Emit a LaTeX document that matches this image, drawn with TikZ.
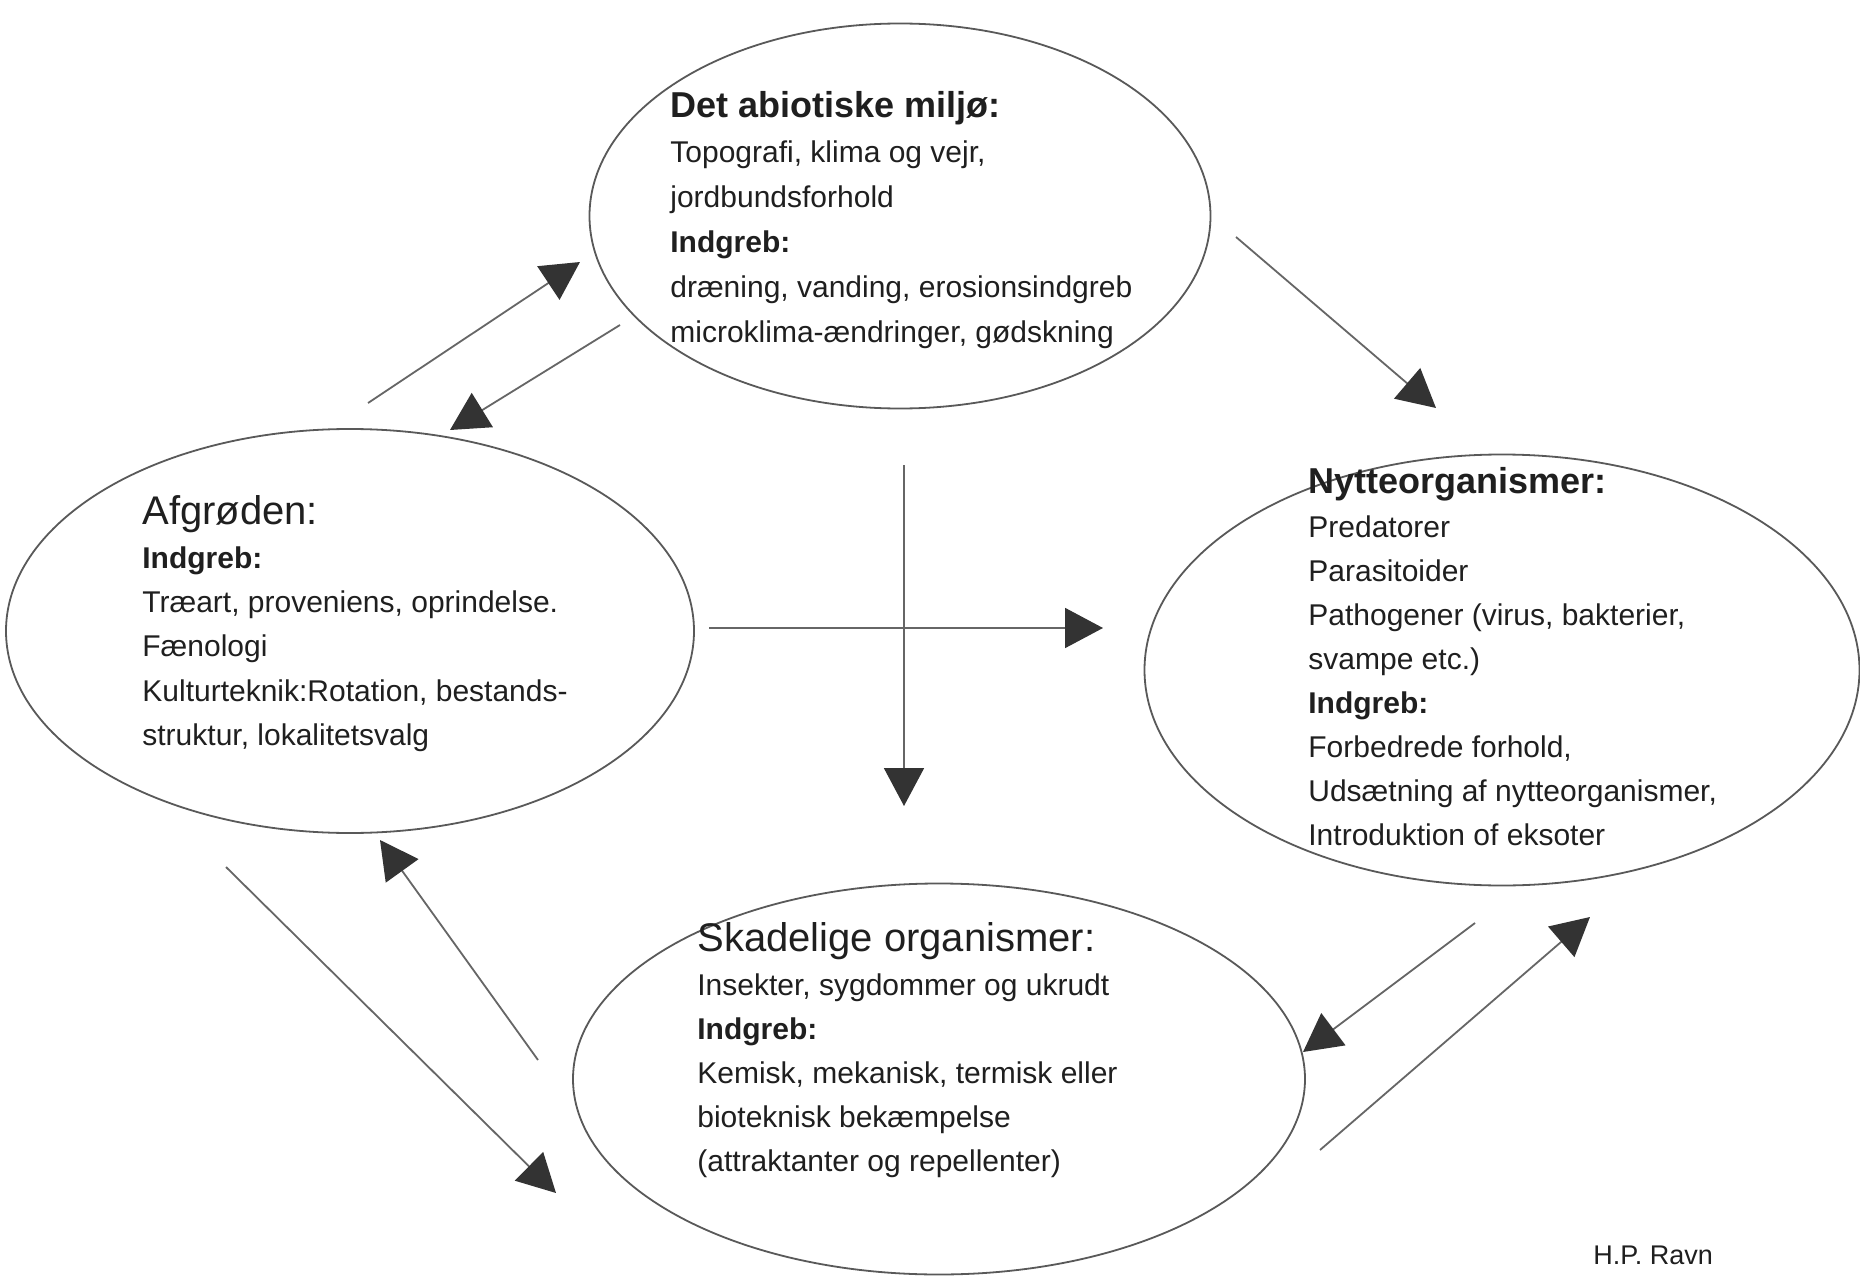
\documentclass[tikz,border=0pt]{standalone}
\usepackage{fontspec}
\setmainfont{Liberation Sans}
\usetikzlibrary{shapes.geometric,arrows.meta}

\tikzset{
  kreds/.style={ellipse, draw=black!65, line width=0.9pt, inner sep=0pt},
  tekst/.style={anchor=north west, inner sep=0pt, align=left, text=black!88, font=\fontsize{15}{22.5}\selectfont},
  pil/.style={draw=black!60, line width=0.9pt, -{Triangle[length=19pt,width=20pt,color=black!80]}},
}
\newcommand{\overskrift}[1]{{\fontsize{18}{22.5}\selectfont\bfseries #1}}
\newcommand{\overskriftalm}[1]{{\fontsize{20}{22.5}\selectfont #1}}

\begin{document}
\begin{tikzpicture}[x=0.5pt,y=-0.5pt]
  \useasboundingbox[fill=white] (0,0) rectangle (1860,1279);

  \node[kreds, minimum width=310.5pt, minimum height=192.5pt] (abiotisk) at (900,216) {};
  \node[kreds, minimum width=344pt, minimum height=202pt] (afgrode) at (350,631) {};
  \node[kreds, minimum width=357.5pt, minimum height=215.5pt] (nytte) at (1502,670) {};
  \node[kreds, minimum width=366pt, minimum height=195.5pt] (skade) at (939,1079) {};

  \node[tekst] (abiotisk-tekst) at (670,91) {\overskrift{Det abiotiske miljø:}\\
    Topografi, klima og vejr,\\
    jordbundsforhold\\
    \textbf{Indgreb:}\\
    dræning, vanding, erosionsindgreb\\
    microklima-ændringer, gødskning};
  \node[tekst, font=\fontsize{15}{22.1}\selectfont] (afgrode-tekst) at (142,495) {\overskriftalm{Afgrøden:}\\
    \textbf{Indgreb:}\\
    Træart, proveniens, oprindelse.\\
    Fænologi\\
    Kulturteknik:Rotation, bestands-\\
    struktur, lokalitetsvalg};
  \node[tekst, font=\fontsize{15}{22}\selectfont] (nytte-tekst) at (1308,467) {\overskrift{Nytteorganismer:}\\
    Predatorer\\
    Parasitoider\\
    Pathogener (virus, bakterier,\\
    svampe etc.)\\
    \textbf{Indgreb:}\\
    Forbedrede forhold,\\
    Udsætning af nytteorganismer,\\
    Introduktion of eksoter};
  \node[tekst, font=\fontsize{15}{22}\selectfont] (skade-tekst) at (697,922) {\overskriftalm{Skadelige organismer:}\\
    Insekter, sygdommer og ukrudt\\
    \textbf{Indgreb:}\\
    Kemisk, mekanisk, termisk eller\\
    bioteknisk bekæmpelse\\
    (attraktanter og repellenter)};

  \node[anchor=base west, inner sep=0pt, text=black!88, font=\fontsize{13.5}{16}\selectfont] (forfatter) at (1593,1264) {H.P. Ravn};

  \coordinate (afg-abi-s) at (368,403);
  \coordinate (afg-abi-e) at (580,262);
  \coordinate (abi-afg-s) at (620,325);
  \coordinate (abi-afg-e) at (450,430);
  \coordinate (abi-nyt-s) at (1236,237);
  \coordinate (abi-nyt-e) at (1436,408);
  \coordinate (afg-nyt-s) at (709,628);
  \coordinate (afg-nyt-e) at (1103,628);
  \coordinate (abi-ska-s) at (904,465);
  \coordinate (abi-ska-e) at (904,806);
  \coordinate (ska-afg-s) at (538,1060);
  \coordinate (ska-afg-e) at (380,840);
  \coordinate (afg-ska-s) at (226,867);
  \coordinate (afg-ska-e) at (556,1193);
  \coordinate (nyt-ska-s) at (1475,923);
  \coordinate (nyt-ska-e) at (1303,1052);
  \coordinate (ska-nyt-s) at (1320,1150);
  \coordinate (ska-nyt-e) at (1590,917);

  \draw[pil] (afg-abi-s) -- (afg-abi-e);
  \draw[pil] (abi-afg-s) -- (abi-afg-e);
  \draw[pil] (abi-nyt-s) -- (abi-nyt-e);
  \draw[pil] (afg-nyt-s) -- (afg-nyt-e);
  \draw[pil] (abi-ska-s) -- (abi-ska-e);
  \draw[pil] (ska-afg-s) -- (ska-afg-e);
  \draw[pil] (afg-ska-s) -- (afg-ska-e);
  \draw[pil] (nyt-ska-s) -- (nyt-ska-e);
  \draw[pil] (ska-nyt-s) -- (ska-nyt-e);
\end{tikzpicture}
\end{document}
